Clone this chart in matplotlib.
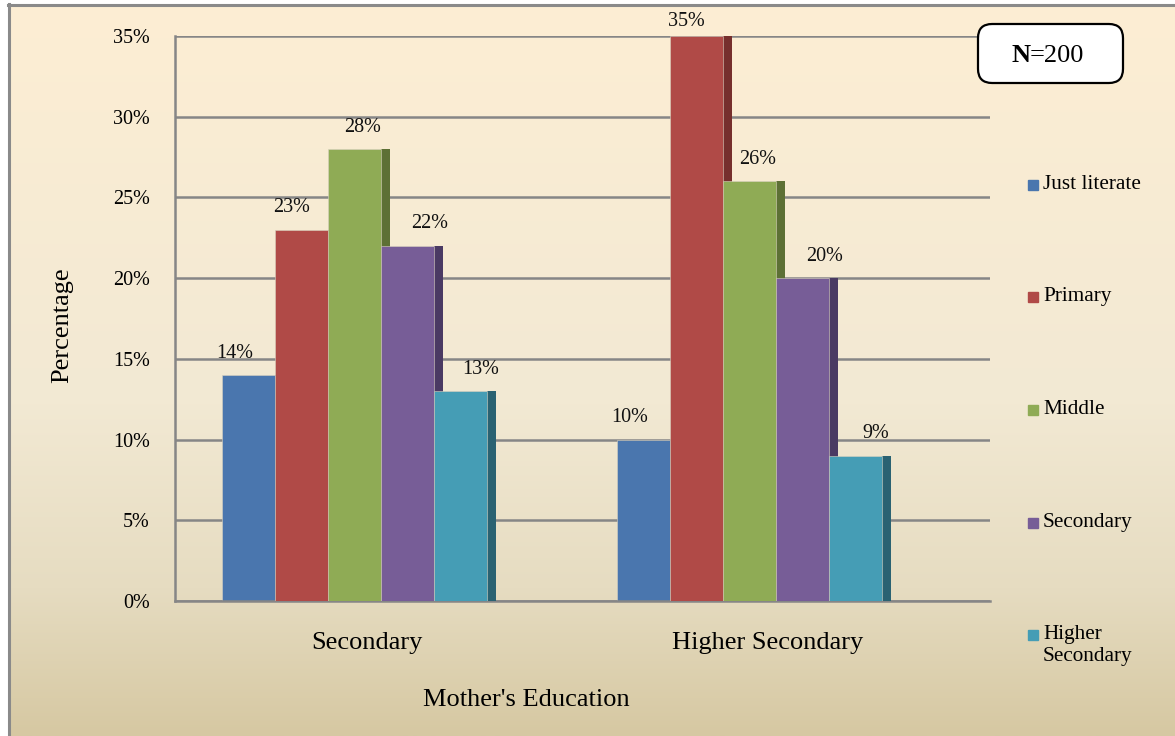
import numpy as np
import matplotlib
matplotlib.use("Agg")
import matplotlib.pyplot as plt
from matplotlib.patches import Rectangle, FancyBboxPatch
from matplotlib.colors import LinearSegmentedColormap

# survey data: mother's education groups vs. child's level
categories = ["Secondary", "Higher Secondary"]
series = ["Just literate", "Primary", "Middle", "Secondary", "Higher\nSecondary"]
just_literate = [14, 10]
primary = [23, 35]
middle = [28, 26]
secondary = [22, 20]
higher_secondary = [13, 9]
values = [just_literate, primary, middle, secondary, higher_secondary]

colors = ["#4A76AE", "#B04A47", "#8FAB55", "#775D97", "#459DB5"]
side_colors = ["#2F4E75", "#762F2D", "#5D7035", "#4A3A63", "#2A6272"]
label_dx = [-14, -10, 8, 22, 20]   # label shift in pixels, per series

plt.rcParams["font.family"] = ["Liberation Serif", "DejaVu Serif"]

W, H = 1175, 736
fig = plt.figure(figsize=(W / 100, H / 100), dpi=100)

# cream gradient background with a grey frame
bg = fig.add_axes([0, 0, 1, 1], zorder=-10)
cmap = LinearSegmentedColormap.from_list(
    "paper", [(0, "#FDEED4"), (0.55, "#F2E9D3"), (0.8, "#E6DCC1"), (1, "#D6C8A2")])
grad = np.linspace(0, 1, 256).reshape(-1, 1)
bg.imshow(grad, aspect="auto", cmap=cmap, extent=[0, 1, 0, 1], origin="upper")
bg.add_patch(Rectangle((0, 0), 8 / W, 1, color="white"))
bg.add_patch(Rectangle((0, 1 - 3 / H), 1, 3 / H, color="white"))
bg.plot([8.5 / W, 8.5 / W], [0, 1 - 4 / H], color="#8A8A8A", lw=2.2)
bg.plot([8 / W, 1], [1 - 4.5 / H, 1 - 4.5 / H], color="#8A8A8A", lw=2.2)
bg.set_xlim(0, 1)
bg.set_ylim(0, 1)
bg.axis("off")

ax = fig.add_axes([175 / W, 1 - 601 / H, 815 / W, 565 / H])
ax.set_facecolor("none")

ymax = 35
bar_w = 0.13
depth = 0.022
group_start = [0.115, 1.085]
for i, vals in enumerate(values):
    for c, v in enumerate(vals):
        x0 = group_start[c] + i * bar_w
        ax.add_patch(Rectangle((x0 + bar_w, 0), depth, v, facecolor=side_colors[i],
                               edgecolor="none", zorder=2 + i))
        ax.bar(x0, v, width=bar_w, align="edge", color=colors[i],
               edgecolor="#D9D2C0", linewidth=0.4, zorder=2 + i)
        dy = 22 if v < ymax else 14
        ax.annotate(f"{v}%", (x0 + bar_w / 2, v), xytext=(label_dx[i], dy),
                    textcoords="offset pixels", ha="center", va="center",
                    fontsize=14.5, color="#111111", zorder=10,
                    annotation_clip=False)

ax.set_xlim(0, 2)
ax.set_ylim(0, ymax)
ax.set_yticks(np.arange(0, ymax + 1, 5))
ax.set_yticklabels([f"{t}%" for t in range(0, ymax + 1, 5)])
ax.set_xticks([0.47, 1.455])
ax.set_xticklabels(categories)
ax.tick_params(axis="y", length=0, pad=18, labelsize=14.5)
ax.tick_params(axis="x", length=0, pad=22, labelsize=19)
ax.grid(axis="y", color="#868686", linewidth=1.8, zorder=1)
ax.set_axisbelow(True)
for s in ["top", "right"]:
    ax.spines[s].set_visible(False)
for s in ["left", "bottom"]:
    ax.spines[s].set_color("#868686")
    ax.spines[s].set_linewidth(1.8)

fig.text(526 / W, 1 - 700 / H, "Mother's Education", ha="center", va="center",
         fontsize=19)
fig.text(62 / W, 1 - 325 / H, "Percentage", ha="center", va="center",
         rotation=90, fontsize=19)

# legend down the right margin
for i, name in enumerate(series):
    y = 185 + i * 112.5
    fig.patches.append(Rectangle((1028 / W, 1 - (y + 5) / H), 10 / W, 10 / H,
                                 color=colors[i], transform=fig.transFigure))
    fig.text(1043 / W, 1 - (y - 10) / H, name, ha="left", va="top",
             fontsize=15.3, linespacing=1.2)

# sample size box
box = FancyBboxPatch((978 / W, 1 - 83 / H), 145 / W, 59 / H,
                     boxstyle="round,pad=0,rounding_size=0.012",
                     facecolor="white", edgecolor="black", linewidth=1.6,
                     transform=fig.transFigure, zorder=20, mutation_aspect=W / H)
fig.patches.append(box)
fig.text(1012 / W, 1 - 56 / H, "N", ha="left", va="center",
         fontsize=19, fontweight="bold", zorder=21)
fig.text(1030 / W, 1 - 56 / H, "=200", ha="left", va="center",
         fontsize=19, zorder=21)

fig.savefig("out.png", dpi=100)
